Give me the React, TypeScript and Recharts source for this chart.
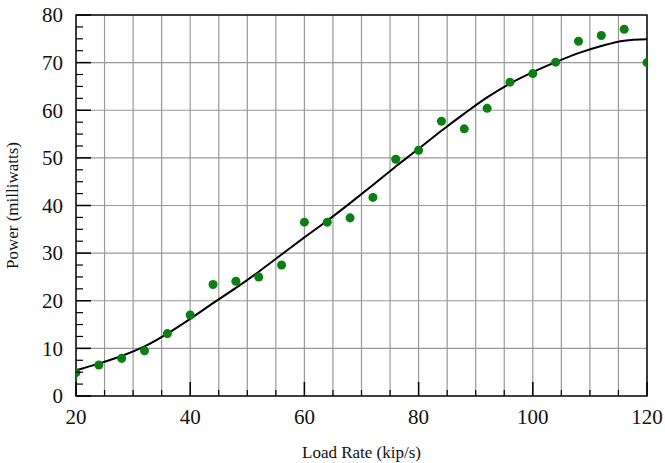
import {
  CartesianGrid,
  ComposedChart,
  Line,
  ReferenceArea,
  Scatter,
  XAxis,
  YAxis,
} from "recharts"

// measured points (load rate, power)
const loadRates = [20, 24, 28, 32, 36, 40, 44, 48, 52, 56, 60, 64, 68, 72, 76, 80, 84, 88, 92, 96, 100, 104, 108, 112, 116, 120]
const powers = [4.9, 6.5, 7.9, 9.5, 13.1, 17.0, 23.4, 24.1, 25.0, 27.5, 36.5, 36.5, 37.4, 41.7, 49.7, 51.6, 57.7, 56.1, 60.4, 65.9, 67.7, 70.1, 74.5, 75.7, 77.0, 70.0]

// fitted curve, read at every 4 kip/s
const fitRates = [20, 24, 28, 32, 36, 40, 44, 48, 52, 56, 60, 64, 68, 72, 76, 80, 84, 88, 92, 96, 100, 104, 108, 112, 116, 120]
const fitPowers = [5.4, 6.8, 8.4, 10.4, 13.1, 16.2, 19.5, 22.7, 26.1, 29.7, 33.3, 36.8, 40.5, 44.3, 48.2, 51.9, 55.7, 59.3, 62.7, 65.6, 68.0, 70.1, 72.0, 73.5, 74.6, 74.9]

const xTicks = [20, 25, 30, 35, 40, 45, 50, 55, 60, 65, 70, 75, 80, 85, 90, 95, 100, 105, 110, 115, 120]
const yTicks = [0, 10, 20, 30, 40, 50, 60, 70, 80]
const yMinorTicks = [0, 2.5, 5, 7.5, 10, 12.5, 15, 17.5, 20, 22.5, 25, 27.5, 30, 32.5, 35, 37.5, 40, 42.5, 45, 47.5, 50, 52.5, 55, 57.5, 60, 62.5, 65, 67.5, 70, 72.5, 75, 77.5, 80]

const points = loadRates.map((x, i) => ({ x, y: powers[i] }))
const fit = fitRates.map((x, i) => ({ x, y: fitPowers[i] }))

const font = "Liberation Serif"
const X_MARGIN = 12
const Y_MARGIN = 13

// label + inward tick mark on the bottom axis
function XTick(props: any) {
  const { x, y, payload } = props
  const v = payload.value as number
  const major = v % 20 === 0
  const axisY = y - X_MARGIN
  return (
    <g>
      <line x1={x} x2={x} y1={axisY} y2={axisY - (major ? 14 : 6)} stroke="#000" strokeWidth={major ? 1.5 : 1.2} />
      {major && (
        <text x={x} y={y} dy="0.78em" textAnchor="middle" fontSize={21} fill="#111" fontFamily={font}>
          {v}
        </text>
      )}
    </g>
  )
}

// label + inward tick mark on the left axis
function YTick(props: any) {
  const { x, y, payload } = props
  const v = payload.value as number
  const major = v % 10 === 0
  const axisX = x + Y_MARGIN
  return (
    <g>
      <line x1={axisX} x2={axisX + (major ? 15 : 7)} y1={y} y2={y} stroke="#000" strokeWidth={major ? 1.5 : 1.2} />
      {major && (
        <text x={x} y={y} dy="0.35em" textAnchor="end" fontSize={21} fill="#111" fontFamily={font}>
          {v}
        </text>
      )}
    </g>
  )
}

export default function App() {
  return (
    <div style={{ position: "absolute", left: 0, top: 0, background: "#fff", fontFamily: font }}>
      <ComposedChart
        width={665}
        height={463}
        margin={{ top: 15, right: 18, bottom: 0, left: 0 }}
      >
        <CartesianGrid stroke="#999" strokeWidth={1.2} horizontalValues={yTicks} verticalValues={xTicks} />
        <XAxis
          dataKey="x"
          type="number"
          domain={[20, 120]}
          ticks={xTicks}
          allowDataOverflow
          interval={0}
          height={67}
          tickLine={false}
          axisLine={false}
          tickSize={0}
          tickMargin={X_MARGIN}
          tick={<XTick />}
          label={{
            value: "Load Rate (kip/s)",
            position: "insideBottom",
            offset: 5,
            style: { fontSize: 17, fill: "#111", fontFamily: font },
          }}
        />
        <YAxis
          type="number"
          domain={[0, 80]}
          ticks={yMinorTicks}
          allowDataOverflow
          interval={0}
          width={76}
          tickLine={false}
          axisLine={false}
          tickSize={0}
          tickMargin={Y_MARGIN}
          tick={<YTick />}
          label={{
            value: "Power (milliwatts)",
            angle: -90,
            position: "insideLeft",
            offset: 12,
            style: { fontSize: 17, fill: "#111", fontFamily: font, textAnchor: "middle" },
          }}
        />
        <ReferenceArea
          x1={20}
          x2={120}
          y1={0}
          y2={80}
          fill="none"
          fillOpacity={0}
          stroke="#111"
          strokeWidth={1.5}
          ifOverflow="visible"
        />
        <Line
          data={fit}
          dataKey="y"
          type="monotone"
          stroke="#000"
          strokeWidth={2}
          dot={false}
          activeDot={false}
          isAnimationActive={false}
        />
        <Scatter
          data={points}
          dataKey="y"
          fill="#0b8012"
          isAnimationActive={false}
        />
      </ComposedChart>
    </div>
  )
}
